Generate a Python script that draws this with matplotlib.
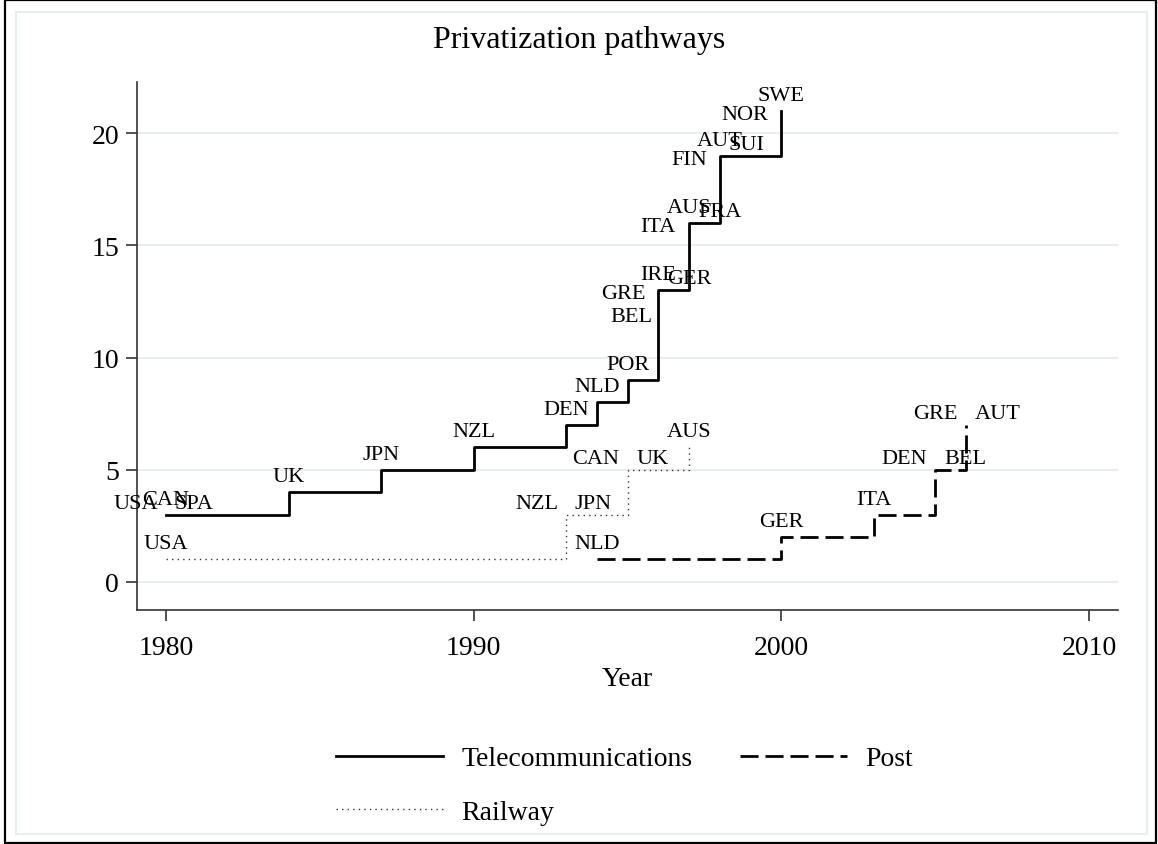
import numpy as np
import matplotlib.pyplot as plt
import matplotlib.patches as mpatches

plt.rcParams['font.family'] = ['Liberation Serif', 'DejaVu Serif']

##########
#  DATA  #
##########

# Year each country privatized, per sector (order = order of labels)
telecomCountries = ["USA", "CAN", "SPA", "UK", "JPN", "NZL", "DEN", "NLD", "POR",
                    "BEL", "GRE", "IRE", "GER", "ITA", "AUS", "FRA",
                    "FIN", "AUT", "SUI", "NOR", "SWE"]
telecomYears = [1980, 1980, 1980, 1984, 1987, 1990, 1993, 1994, 1995,
                1996, 1996, 1996, 1996, 1997, 1997, 1997,
                1998, 1998, 1998, 2000, 2000]

railwayCountries = ["USA", "NZL", "JPN", "CAN", "UK", "AUS"]
railwayYears = [1980, 1993, 1993, 1995, 1995, 1997]

postCountries = ["NLD", "GER", "ITA", "DEN", "BEL", "GRE", "AUT"]
postYears = [1994, 2000, 2003, 2005, 2005, 2006, 2006]

xTicks = [1980, 1990, 2000, 2010]
yTicks = [0, 5, 10, 15, 20]

# Marker label clock positions (like Stata's mlabvposition)
telecomLabPos = [10, 12, 2, 12, 12, 12, 12, 12, 12,
                 8, 9, 12, 2, 9, 12, 2,
                 9, 12, 2, 9, 12]
railwayLabPos = [12, 10, 2, 10, 2, 12]
postLabPos = [12, 12, 12, 10, 2, 10, 2]

# clock position -> (dx px, baseline dy px, horizontal alignment)
CLOCK = {12: (0, 11, 'center'),
         2: (9, 7, 'left'),
         10: (-8, 7, 'right'),
         9: (-13, -8, 'right'),
         8: (-6, -31, 'right')}

GRIDCOLOR = '#E6EEF1'
AXISCOLOR = '#333333'


def cumulative(years):
    """ Number of privatized countries at each distinct year. """
    yrs = np.array(years)
    steps = np.unique(yrs)
    counts = np.array([(yrs <= y).sum() for y in steps])
    return steps, counts


def plotPathway(ax, countries, years, labPos, **style):
    """ Draw one step line and label each country at its step. """
    steps, counts = cumulative(years)
    line, = ax.step(steps, counts, where='post', zorder=4, **style)
    lookup = dict(zip(steps, counts))
    for name, yr, pos in zip(countries, years, labPos):
        dx, dy, ha = CLOCK[pos]
        ax.annotate(name, (yr, lookup[yr]), xytext=(dx, dy),
                    textcoords='offset pixels', ha=ha, va='baseline',
                    fontsize=16, zorder=3)
    return line


def main():
    fig = plt.figure(figsize=(11.58, 8.45), dpi=100)
    ax = fig.add_axes([0.1183, 0.2769, 0.9655 - 0.1183, 0.9018 - 0.2769])

    # graph region borders
    fig.patches.append(mpatches.Rectangle((4.5 / 1158, 1 / 845), 1151.5 / 1158, 843 / 845,
                                          transform=fig.transFigure, fill=False,
                                          edgecolor='black', lw=1.6))
    fig.patches.append(mpatches.Rectangle((16 / 1158, 10 / 845), 1131 / 1158, 822 / 845,
                                          transform=fig.transFigure, fill=False,
                                          edgecolor=GRIDCOLOR, lw=1.5))

    telecom = plotPathway(ax, telecomCountries, telecomYears, telecomLabPos,
                          color='black', lw=2.0, label='Telecommunications')
    railway = plotPathway(ax, railwayCountries, railwayYears, railwayLabPos,
                          color='#333333', lw=1.0, linestyle=(0, (1, 3)), label='Railway')
    post = plotPathway(ax, postCountries, postYears, postLabPos,
                       color='black', lw=2.0, linestyle=(0, (6.5, 2.5)), label='Post')

    ax.set_xlim(1979.06, 2010.94)
    ax.set_ylim(-1.26, 22.29)
    ax.set_xticks(xTicks)
    ax.set_yticks(yTicks)
    ax.yaxis.grid(True, color=GRIDCOLOR, lw=1.5)
    ax.set_axisbelow(True)

    for side in ['top', 'right']:
        ax.spines[side].set_visible(False)
    for side in ['left', 'bottom']:
        ax.spines[side].set_color(AXISCOLOR)
        ax.spines[side].set_linewidth(1.2)
    ax.tick_params(length=8, width=1.2, color=AXISCOLOR, labelsize=20)
    ax.tick_params(axis='x', pad=10)
    ax.tick_params(axis='y', pad=5)

    ax.set_xlabel("Year", fontsize=20, labelpad=4)
    fig.suptitle("Privatization pathways", fontsize=23, y=0.969)

    fig.legend(handles=[telecom, railway, post], ncol=2, frameon=False,
               loc='upper left', bbox_to_anchor=(336 / 1158, 1 - 747 / 845),
               fontsize=20, handlelength=3.85, handletextpad=0.65,
               columnspacing=1.74, labelspacing=1.0, borderpad=0, borderaxespad=0)

    plt.savefig("out.png", dpi=100)


if __name__ == "__main__":
    main()
